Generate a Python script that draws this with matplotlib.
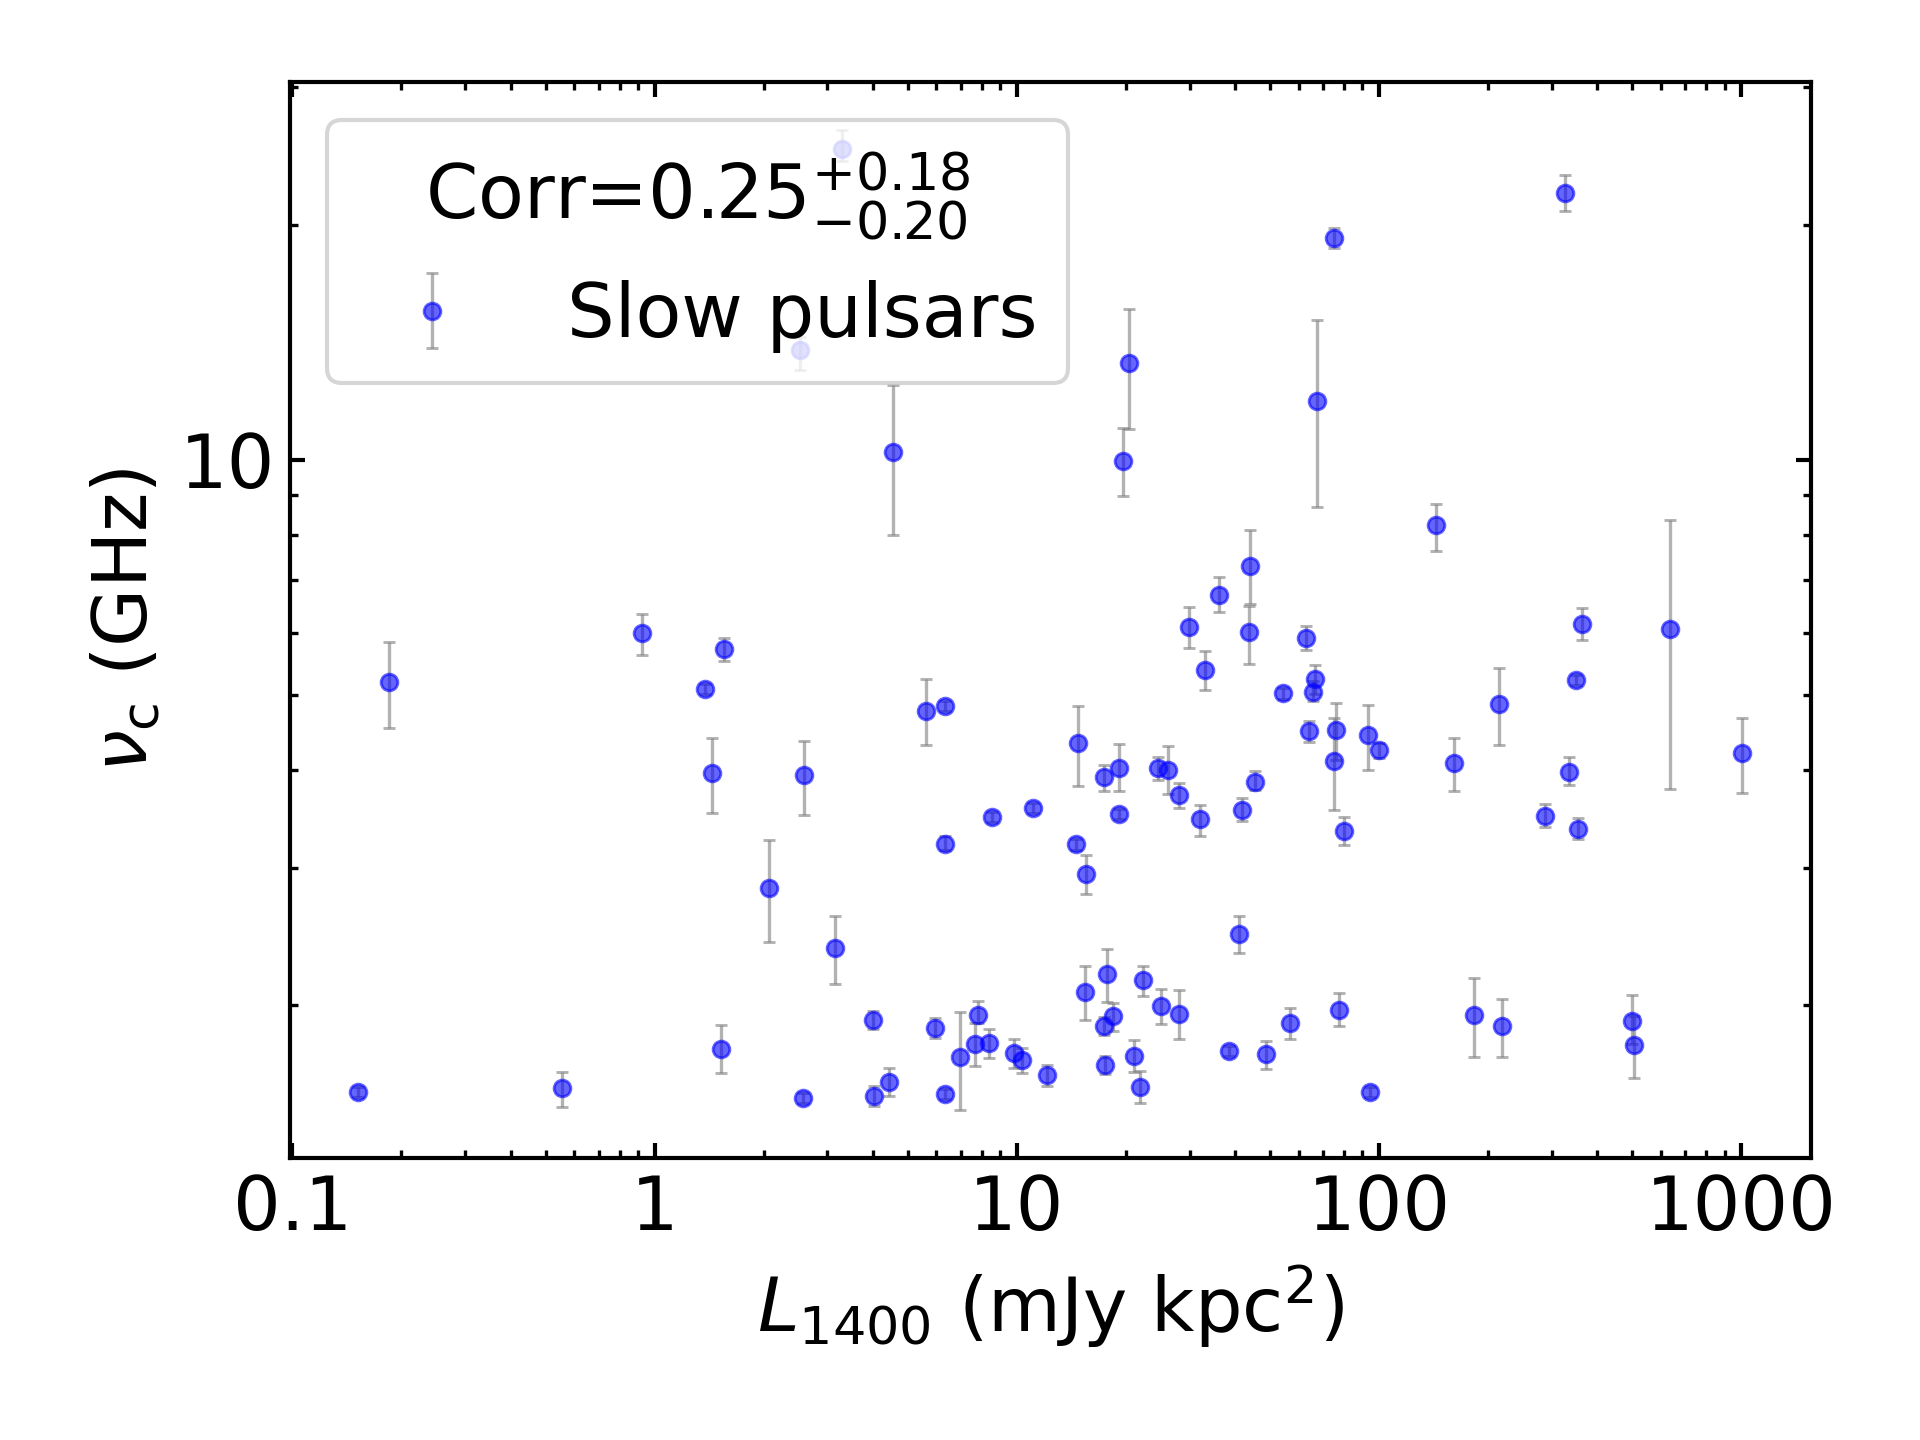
import numpy as np
import matplotlib
matplotlib.use("Agg")
import matplotlib.pyplot as plt
from matplotlib.ticker import LogLocator, NullFormatter

# pseudo-luminosity at 1400 MHz (mJy kpc^2)
L1400 = [0.152, 0.185, 0.555, 0.923, 1.377, 1.439, 1.527, 1.553, 2.068, 2.520,
         2.586, 2.568, 3.145, 3.286, 4.003, 4.028, 4.432, 4.548, 5.598, 5.934,
         6.324, 6.324, 6.324, 6.960, 7.641, 7.802, 8.369, 8.527, 9.808, 10.36,
         11.06, 12.09, 14.57, 14.73, 15.40, 15.56, 17.37, 17.37, 17.56, 17.70,
         18.39, 19.10, 19.19, 19.70, 20.35, 21.02, 21.84, 22.25, 24.49, 24.97,
         26.10, 27.97, 27.97, 29.81, 31.97, 33.01, 36.07, 38.45, 40.98, 41.76,
         43.95, 43.64, 45.34, 48.63, 54.18, 56.62, 62.69, 63.87, 65.54, 66.37,
         67.30, 75.34, 75.87, 74.94, 77.31, 79.81, 92.94, 94.19, 99.68, 144.1,
         160.6, 183.4, 215.0, 217.9, 288.0, 326.8, 335.5, 350.6, 353.6, 364.2,
         500.8, 507.1, 637.6, 1007.0]

# turnover frequency nu_c (GHz)
nu_c = [1.550, 5.186, 1.565, 5.987, 5.088, 3.972, 1.759, 5.712, 2.830, 13.83,
        3.938, 1.522, 2.364, 24.96, 1.912, 1.529, 1.595, 10.24, 4.760, 1.868,
        4.831, 3.213, 1.538, 1.715, 1.785, 1.942, 1.788, 3.483, 1.737, 1.700,
        3.575, 1.626, 3.213, 4.333, 2.078, 2.947, 3.915, 1.879, 1.676, 2.190,
        1.937, 4.031, 3.512, 9.97, 13.31, 1.720, 1.570, 2.152, 4.031, 1.993,
        4.001, 3.713, 1.947, 6.111, 3.460, 5.368, 6.712, 1.749, 2.464, 3.562,
        7.313, 6.006, 3.868, 1.730, 5.017, 1.900, 5.909, 4.484, 5.045, 5.230,
        11.89, 19.24, 4.500, 4.116, 1.974, 3.348, 4.432, 1.550, 4.243, 8.238,
        4.087, 1.942, 4.863, 1.879, 3.499, 21.98, 3.983, 5.214, 3.366, 6.158,
        1.911, 1.776, 6.065, 4.204]

# lower / upper ends of the error bars (GHz)
nu_lo = [1.527, 4.524, 1.480, 5.626, 5.012, 3.528, 1.637, 5.518, 2.407, 13.02,
         3.509, 1.499, 2.127, 24.14, 1.864, 1.484, 1.529, 8.015, 4.306, 1.814,
         4.759, 3.162, 1.515, 1.468, 1.672, 1.899, 1.710, 3.431, 1.660, 1.637,
         3.521, 1.578, 3.165, 3.814, 1.912, 2.773, 3.757, 1.829, 1.631, 2.016,
         1.856, 3.757, 3.459, 8.99, 10.95, 1.642, 1.497, 2.053, 3.890, 1.890,
         3.724, 3.575, 1.809, 5.743, 3.293, 5.061, 6.371, 1.723, 2.330, 3.448,
         6.522, 5.468, 3.774, 1.657, 4.942, 1.808, 5.700, 4.345, 4.913, 5.003,
         8.707, 18.68, 4.117, 3.562, 1.880, 3.211, 4.007, 1.527, 4.141, 7.637,
         3.758, 1.719, 4.313, 1.715, 3.378, 20.84, 3.824, 5.136, 3.268, 5.881,
         1.781, 1.612, 3.781, 3.736]

nu_hi = [1.573, 5.834, 1.643, 6.345, 5.164, 4.402, 1.886, 5.902, 3.254, 14.35,
         4.354, 1.545, 2.600, 26.40, 1.966, 1.575, 1.660, 12.45, 5.232, 1.924,
         4.903, 3.290, 1.561, 1.963, 1.896, 2.022, 1.863, 3.535, 1.809, 1.762,
         3.629, 1.676, 3.261, 4.831, 2.242, 3.111, 4.059, 1.933, 1.722, 2.358,
         2.015, 4.320, 3.565, 10.96, 15.61, 1.803, 1.645, 2.242, 4.164, 2.096,
         4.291, 3.848, 2.089, 6.482, 3.614, 5.681, 7.072, 1.775, 2.605, 3.681,
         8.135, 6.498, 3.985, 1.801, 5.092, 1.986, 6.126, 4.630, 5.20, 5.455,
         15.08, 19.82, 4.872, 4.670, 2.072, 3.483, 4.851, 1.573, 4.340, 8.782,
         4.405, 2.165, 5.400, 2.038, 3.622, 23.18, 4.157, 5.292, 3.470, 6.451,
         2.058, 1.935, 8.366, 4.660]

x_ticks = [0.1, 1, 10, 100, 1000]
x_ticklabels = ["0.1", "1", "10", "100", "1000"]
corr_title = r"Corr=$0.25^{+0.18}_{-0.20}$"

x = np.array(L1400)
y = np.array(nu_c)
yerr = [y - np.array(nu_lo), np.array(nu_hi) - y]

fig = plt.figure(figsize=(6.4, 4.8), dpi=300)
ax = fig.add_axes([0.151, 0.1956, 0.7921, 0.7474])

ax.errorbar(x, y, yerr=yerr, fmt="o", ms=4.0, mew=0.7,
            mfc=(0, 0, 1, 0.6), mec=(0, 0, 1, 0.6),
            ecolor=(0.5, 0.5, 0.5, 0.6), elinewidth=0.8,
            capsize=1.5, capthick=0.8, label="Slow pulsars")

ax.set_xscale("log")
ax.set_yscale("log")
ax.set_xlim(0.0984, 1556)
ax.set_ylim(1.273, 30.45)

ax.set_xticks(x_ticks, x_ticklabels)
ax.set_yticks([10], ["10"])
for axis in (ax.xaxis, ax.yaxis):
    axis.set_minor_locator(LogLocator(base=10, subs=np.arange(2, 10), numticks=20))
    axis.set_minor_formatter(NullFormatter())

ax.tick_params(which="both", direction="in", top=True, right=True)
ax.tick_params(which="major", length=3.5, width=1.0, labelsize=18)
ax.tick_params(which="minor", length=2.0, width=0.8)
for sp in ax.spines.values():
    sp.set_linewidth(1.0)

ax.set_xlabel(r"$L_{1400}$ (mJy kpc$^2$)", fontsize=18)
ax.set_ylabel(r"$\nu_{\rm c}$ (GHz)", fontsize=18)

ax.legend(loc="upper left", fontsize=18, title=corr_title, title_fontsize=18)

fig.savefig("out.png", dpi=300)
